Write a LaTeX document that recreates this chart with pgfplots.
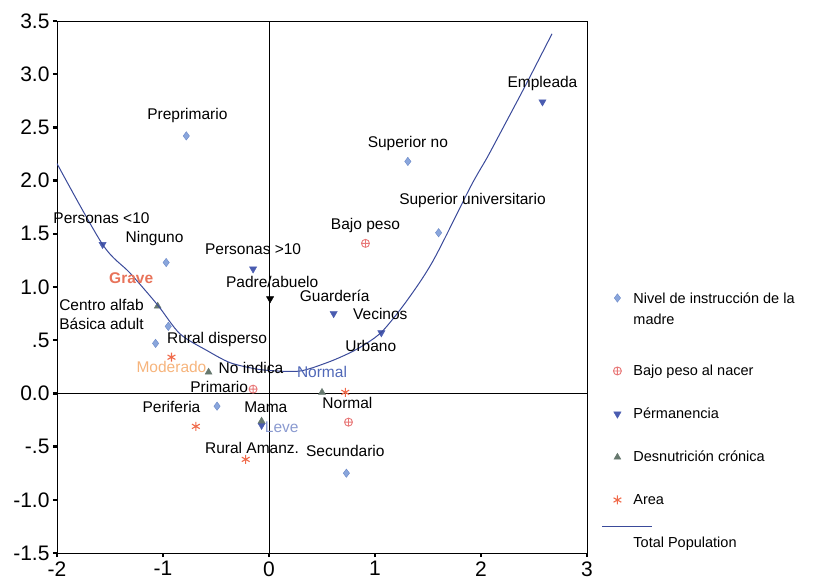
\documentclass[border=0pt]{standalone}
\usepackage{fontspec}
\setmainfont{Liberation Sans}
\usepackage{pgfplots}
\pgfplotsset{compat=1.18}
\definecolor{cdia}{HTML}{8AA6DC}
\definecolor{cdiad}{HTML}{6A88C8}
\definecolor{cbajo}{HTML}{E87878}
\definecolor{cperm}{HTML}{4A5CB0}
\definecolor{cdesn}{HTML}{66786E}
\definecolor{carea}{HTML}{F06A4A}
\definecolor{ccurve}{HTML}{3A4A9A}
\definecolor{cgrave}{HTML}{E8735A}
\definecolor{cmod}{HTML}{F6B47C}
\definecolor{cleve}{HTML}{8A9AD0}
\definecolor{cnorm}{HTML}{5068B8}
\newcommand\lab{\fontsize{15.5bp}{18bp}\selectfont}
\pgfplotsset{
  totalpop/.style={legend image code/.code={\draw[#1, overlay] (-6.5bp,16bp) -- (43.5bp,16bp);}},
  nivelimg/.style={legend image code/.code={\path[draw=none,fill=none] (0bp,-27bp) rectangle (1bp,-26bp);\draw[mark repeat=2,mark phase=2,#1, overlay] plot coordinates {(0bp,11bp) (8.5bp,11bp) (17bp,11bp)};}},
}
\begin{document}
\begin{tikzpicture}
\path[use as bounding box] (-57bp,-28bp) rectangle (758bp,553bp);
\begin{axis}[
  scale only axis, width=530bp, height=532bp,
  xmin=-2, xmax=3, ymin=-1.5, ymax=3.5,
  xtick={-2,-1,0,1,2,3},
  ytick={-1.5,-1,-0.5,0,0.5,1,1.5,2,2.5,3,3.5},
  yticklabels={-1.5,-1.0,-.5,0.0,.5,1.0,1.5,2.0,2.5,3.0,3.5},
  xtick pos=bottom, ytick pos=left, tick align=outside,
  major tick length=4bp, tick style={line width=2.5bp, black},
  axis line style={line width=0.8bp},
  ticklabel style={font=\fontsize{21bp}{24bp}\selectfont},
  xticklabel style={yshift=-1bp},
  /pgf/number format/assume math mode=true,
  clip mode=individual,
  legend cell align=left,
  legend style={draw=none, fill=none, at={(1.041,0.494)}, anchor=north west,
    inner sep=0pt, font=\fontsize{14.5bp}{21bp}\selectfont, row sep=27bp,
    nodes={align=left},
    /tikz/every odd column/.append style={column sep=10bp}},
]
% reference lines
\addplot[black, line width=0.8bp, forget plot] coordinates {(0,-1.5) (0,3.5)};
\addplot[black, line width=0.8bp, forget plot] coordinates {(-2,0) (3,0)};

% Nivel de instruccion de la madre
\addplot[only marks, mark=diamond*, mark size=4.2bp, draw=cdiad, fill=cdia, nivelimg] coordinates {
 (-0.78,2.42) (-0.97,1.23) (1.31,2.18) (1.60,1.51) (-0.95,0.63) (-1.07,0.47) (-0.49,-0.12) (0.73,-0.75)
};
\addlegendentry{Nivel de instrucción de la\\madre}

% Bajo peso al nacer
\addplot[only marks, mark=oplus, mark size=4bp, color=cbajo, line width=0.9bp] coordinates {
 (0.91,1.41) (0.75,-0.27) (-0.15,0.04)
};
\addlegendentry{Bajo peso al nacer}

% Permanencia
\addplot[only marks, mark=triangle*, mark size=4.2bp, color=cperm, mark options={rotate=180}] coordinates {
 (-1.57,1.40) (-0.15,1.17) (0.61,0.75) (1.06,0.57) (2.58,2.74) (-0.07,-0.30)
};
\addlegendentry{Pérmanencia}

% Desnutricion cronica
\addplot[only marks, mark=triangle*, mark size=4bp, color=cdesn] coordinates {
 (-1.05,0.82) (-0.57,0.20) (-0.07,-0.26) (0.50,0.01)
};
\addlegendentry{Desnutrición crónica}

% Area
\addplot[only marks, mark=asterisk, mark size=4.5bp, color=carea, line width=1.1bp] coordinates {
 (-0.92,0.34) (-0.69,-0.31) (-0.22,-0.62) (0.72,0.01)
};
\addlegendentry{Area}

% Padre/abuelo (black)
\addplot[only marks, mark=triangle*, mark size=4.2bp, color=black, mark options={rotate=180}, forget plot] coordinates {
 (0.01,0.89)
};

% Total population curve
\addplot[color=ccurve, line width=1bp, smooth, tension=0.5, totalpop] coordinates {
 (-2.00,2.16) (-1.57,1.40) (-1.31,1.13) (-1.05,0.83) (-0.84,0.56) (-0.58,0.40) (-0.37,0.29)
 (-0.15,0.235) (0.01,0.215) (0.29,0.21) (0.55,0.29) (0.76,0.38) (0.92,0.47) (1.075,0.59)
 (1.30,0.87) (1.55,1.25) (1.90,1.94) (2.06,2.22) (2.21,2.50) (2.37,2.80) (2.49,3.03) (2.67,3.38)
};
\addlegendentry{Total Population}

% labels
\node[font=\lab] at (axis cs:-0.77,2.61) {Preprimario};
\node[font=\lab] at (axis cs:-1.58,1.645) {Personas <10};
\node[font=\lab] at (axis cs:-1.08,1.46) {Ninguno};
\node[font=\lab] at (axis cs:-0.15,1.36) {Personas >10};
\node[font=\lab\bfseries, text=cgrave] at (axis cs:-1.30,1.08) {Grave};
\node[font=\lab] at (axis cs:0.03,1.05) {Padre/abuelo};
\node[font=\lab] at (axis cs:-1.58,0.83) {Centro alfab};
\node[font=\lab] at (axis cs:-1.58,0.65) {Básica adult};
\node[font=\lab] at (axis cs:-0.49,0.51) {Rural disperso};
\node[font=\lab, text=cmod] at (axis cs:-0.92,0.25) {Moderado};
\node[font=\lab] at (axis cs:-0.17,0.235) {No indica};
\node[font=\lab] at (axis cs:-0.47,0.056) {Primario};
\node[font=\lab] at (axis cs:-0.92,-0.13) {Periferia};
\node[font=\lab] at (axis cs:-0.03,-0.13) {Mama};
\node[font=\lab, text=cleve] at (axis cs:0.12,-0.32) {Leve};
\node[font=\lab] at (axis cs:-0.16,-0.51) {Rural Amanz.};
\node[font=\lab] at (axis cs:0.72,-0.54) {Secundario};
\node[font=\lab] at (axis cs:0.74,-0.09) {Normal};
\node[font=\lab, text=cnorm] at (axis cs:0.50,0.20) {Normal};
\node[font=\lab] at (axis cs:0.62,0.92) {Guardería};
\node[font=\lab] at (axis cs:1.05,0.75) {Vecinos};
\node[font=\lab] at (axis cs:0.96,0.45) {Urbano};
\node[font=\lab] at (axis cs:0.91,1.58) {Bajo peso};
\node[font=\lab] at (axis cs:1.31,2.35) {Superior no};
\node[font=\lab] at (axis cs:1.92,1.81) {Superior universitario};
\node[font=\lab] at (axis cs:2.58,2.91) {Empleada};
\end{axis}
\end{tikzpicture}
\end{document}
